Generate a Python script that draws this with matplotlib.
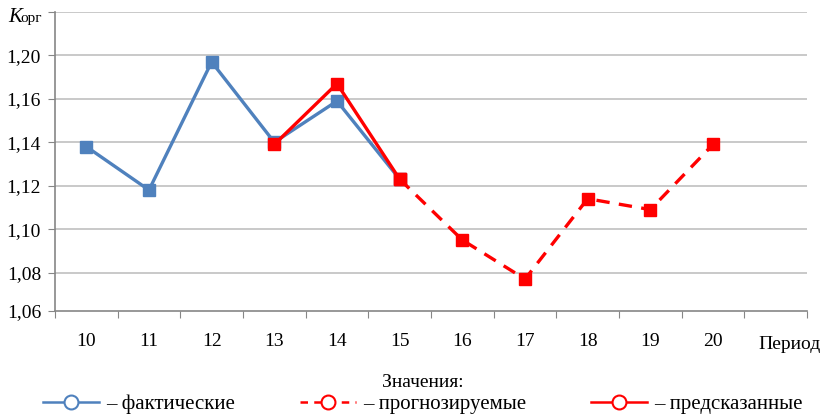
import matplotlib
matplotlib.use('Agg')
import matplotlib.pyplot as plt
from matplotlib.lines import Line2D
import numpy as np

FONT = 'Liberation Serif'
plt.rcParams['font.family'] = FONT

# Periods and series values
periods = ['10', '11', '12', '13', '14', '15', '16', '17', '18', '19', '20']
actual_periods = [10, 11, 12, 13, 14, 15]
actual_values = [1.138, 1.118, 1.177, 1.140, 1.159, 1.123]
forecast_periods = [15, 16, 17, 18, 19, 20]
forecast_values = [1.123, 1.095, 1.077, 1.114, 1.109, 1.139]
predicted_periods = [13, 14, 15]
predicted_values = [1.139, 1.167, 1.123]

# y ticks as printed on the original chart
ytick_vals = [1.0623, 1.08, 1.10, 1.12, 1.14, 1.16, 1.18]
ytick_labels = ['1,06', '1,08', '1,10', '1,12', '1,14', '1,16', '1,20']
grid_vals = [1.08, 1.10, 1.12, 1.14, 1.16, 1.18, 1.20]

blue = '#4F81BD'
red = '#FF0000'

fig = plt.figure(figsize=(8.29, 4.18), dpi=100)
ax = fig.add_axes([0.0663, 0.256, 0.9072, 0.7153])

def xpos(p):
    return np.array(p) - 10

for g in grid_vals:
    ax.axhline(g, color='#C0C0C0', linewidth=1.2, zorder=1)

ax.plot(xpos(actual_periods), actual_values, '-s', color=blue, linewidth=2.4,
        markersize=8, zorder=3)
ax.plot(xpos(forecast_periods), forecast_values, linestyle=(0, (4, 2.8)), marker='s',
        color=red, linewidth=2.4, markersize=8, zorder=4)
ax.plot(xpos(predicted_periods), predicted_values, '-s', color=red, linewidth=2.4,
        markersize=8, zorder=5)

ax.set_xlim(-0.5, 11.5)
ax.set_ylim(1.0623, 1.20)

# category boundaries as tick marks, labels in the centres
ax.set_xticks(np.arange(-0.5, 12, 1))
ax.set_xticklabels([])
ax.set_xticks(np.arange(len(periods)), minor=True)
ax.set_xticklabels(periods, minor=True, fontsize=14, fontfamily=FONT)
ax.tick_params(axis='x', which='major', length=5, color='#868686', direction='out')
ax.tick_params(axis='x', which='minor', length=0, pad=16)
ax.text(10.72, -0.113, 'Период', transform=ax.get_xaxis_transform(),
        fontsize=14, ha='left', va='center', fontfamily=FONT)

ax.set_yticks(ytick_vals + [1.20])
ax.set_yticklabels(ytick_labels + [''], fontsize=14, fontfamily=FONT)
ax.tick_params(axis='y', length=5, color='#868686', direction='out', pad=5)

for s in ['top', 'right']:
    ax.spines[s].set_visible(False)
for s in ['left', 'bottom']:
    ax.spines[s].set_color('#868686')
    ax.spines[s].set_linewidth(1.2)

# axis name K_орг
fig.text(8 / 829, 1 - 22 / 418, 'K', fontsize=15, style='italic', ha='left',
         va='baseline', fontfamily=FONT)
fig.text(20 / 829, 1 - 22 / 418, 'орг', fontsize=11, ha='left', va='baseline',
         fontfamily=FONT)

handles = [
    Line2D([], [], color=blue, linewidth=1.8, marker='o', markersize=10,
           markerfacecolor='white', markeredgecolor=blue, markeredgewidth=1.5),
    Line2D([], [], color=red, linewidth=1.8, linestyle=(0, (3, 2.5)), marker='o',
           markersize=10, markerfacecolor='white', markeredgecolor=red, markeredgewidth=1.5),
    Line2D([], [], color=red, linewidth=1.8, marker='o', markersize=10,
           markerfacecolor='white', markeredgecolor=red, markeredgewidth=1.5),
]
labels = ['– фактические', '– прогнозируемые', '– предсказанные']
leg = fig.legend(handles, labels, loc='lower center', bbox_to_anchor=(0.51, -0.02),
                 ncol=3, frameon=False, prop={'family': FONT, 'size': 15},
                 title='Значения:', title_fontproperties={'family': FONT, 'size': 14},
                 handlelength=2.7, handletextpad=0.35,
                 columnspacing=3.1, labelspacing=0.15, borderaxespad=0.2)

plt.savefig('out.png', dpi=100)
